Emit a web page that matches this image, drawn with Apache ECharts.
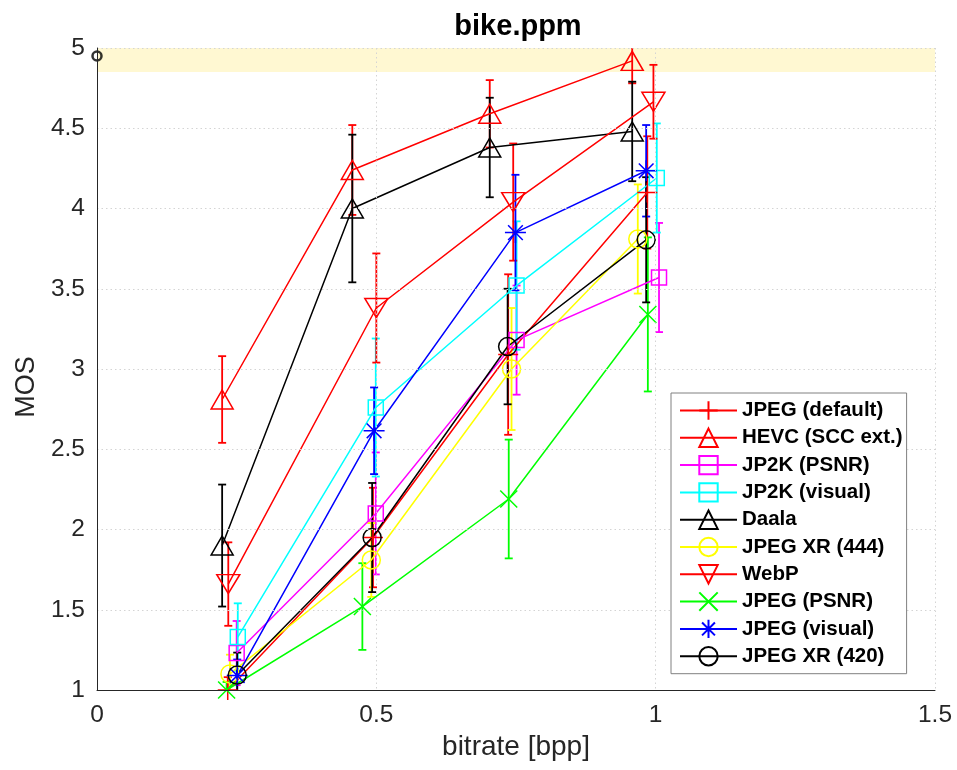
<!DOCTYPE html>
<html>
<head>
<meta charset="utf-8">
<title>bike.ppm</title>
<script src="https://cdn.jsdelivr.net/npm/echarts@6/dist/echarts.min.js"></script>
<style>
  html, body { margin: 0; padding: 0; background: #fff; }
  #chart { width: 957px; height: 770px; }
</style>
</head>
<body>
<div id="chart"></div>
<script>
// Codec names in legend order
const codecs = [
  'JPEG (default)', 'HEVC (SCC ext.)', 'JP2K (PSNR)', 'JP2K (visual)', 'Daala',
  'JPEG XR (444)', 'WebP', 'JPEG (PSNR)', 'JPEG (visual)', 'JPEG XR (420)'
];

// Bitrate [bpp], mean opinion score and confidence half-width per codec
const bppJpegDefault = [0.234, 0.494, 0.736, 0.985];
const mosJpegDefault = [1.00, 1.95, 3.09, 4.10];
const ciJpegDefault  = [0.08, 0.31, 0.50, 0.35];

const bppHevc = [0.224, 0.457, 0.703, 0.958];
const mosHevc = [2.81, 4.24, 4.59, 4.92];
const ciHevc  = [0.27, 0.28, 0.21, 0.14];

const bppJp2kPsnr = [0.250, 0.499, 0.751, 1.006];
const mosJp2kPsnr = [1.23, 2.10, 3.18, 3.57];
const ciJp2kPsnr  = [0.20, 0.38, 0.34, 0.34];

const bppJp2kVisual = [0.252, 0.499, 0.751, 1.002];
const mosJp2kVisual = [1.33, 2.76, 3.52, 4.19];
const ciJp2kVisual  = [0.21, 0.43, 0.40, 0.34];

const bppDaala = [0.224, 0.457, 0.703, 0.958];
const mosDaala = [1.90, 4.00, 4.38, 4.48];
const ciDaala  = [0.38, 0.46, 0.31, 0.31];

const bppJxr444 = [0.238, 0.491, 0.742, 0.968];
const mosJxr444 = [1.10, 1.81, 3.00, 3.81];
const ciJxr444  = [0.12, 0.23, 0.38, 0.34];

const bppWebp = [0.235, 0.500, 0.745, 0.996];
const mosWebp = [1.66, 3.38, 4.04, 4.665];
const ciWebp  = [0.26, 0.34, 0.365, 0.23];

const bppJpegPsnr = [0.232, 0.475, 0.737, 0.986];
const mosJpegPsnr = [1.00, 1.52, 2.19, 3.34];
const ciJpegPsnr  = [0.05, 0.27, 0.37, 0.48];

const bppJpegVisual = [0.251, 0.496, 0.749, 0.983];
const mosJpegVisual = [1.09, 2.615, 3.85, 4.235];
const ciJpegVisual  = [0.10, 0.27, 0.36, 0.285];

const bppJxr420 = [0.251, 0.4925, 0.735, 0.983];
const mosJxr420 = [1.093, 1.95, 3.14, 3.805];
const ciJxr420  = [0.14, 0.34, 0.36, 0.39];

// Reference (uncompressed) score and the band of top scores
const referencePoint = [0, 4.95];
const topBand = [4.85, 5];

const xTicks = [0, 0.5, 1, 1.5];
const yTicks = [1, 1.5, 2, 2.5, 3, 3.5, 4, 4.5, 5];

// Marker shapes
const SYM_PLUS = 'path://M5,0L5,10M0,5L10,5';
const SYM_CROSS = 'path://M0,0L10,10M0,10L10,0';
const SYM_STAR = 'path://M5,0L5,10M0,5L10,5M1.5,1.5L8.5,8.5M1.5,8.5L8.5,1.5';
const SYM_TRI_DOWN = 'path://M0,0L10,0L5,9Z';

const styles = [
  { color: '#ff0000', symbol: SYM_PLUS, size: 20 },
  { color: '#ff0000', symbol: 'triangle', size: [22, 19] },
  { color: '#ff00ff', symbol: 'rect', size: 15 },
  { color: '#00ffff', symbol: 'rect', size: 15 },
  { color: '#000000', symbol: 'triangle', size: [22, 19] },
  { color: '#ffff00', symbol: 'circle', size: 18 },
  { color: '#ff0000', symbol: SYM_TRI_DOWN, size: [23, 19] },
  { color: '#00ff00', symbol: SYM_CROSS, size: 17 },
  { color: '#0000ff', symbol: SYM_STAR, size: 21 },
  { color: '#000000', symbol: 'circle', size: 18 }
];

const bppAll = [bppJpegDefault, bppHevc, bppJp2kPsnr, bppJp2kVisual, bppDaala,
                bppJxr444, bppWebp, bppJpegPsnr, bppJpegVisual, bppJxr420];
const mosAll = [mosJpegDefault, mosHevc, mosJp2kPsnr, mosJp2kVisual, mosDaala,
                mosJxr444, mosWebp, mosJpegPsnr, mosJpegVisual, mosJxr420];
const ciAll  = [ciJpegDefault, ciHevc, ciJp2kPsnr, ciJp2kVisual, ciDaala,
                ciJxr444, ciWebp, ciJpegPsnr, ciJpegVisual, ciJxr420];

const FONT = '"Liberation Sans", Arial, Helvetica, sans-serif';

function errorBarSeries(name, color, rows) {
  return {
    type: 'custom',
    name: name + ' error',
    silent: true,
    clip: true,
    z: 2,
    data: rows,
    encode: { x: 0, y: 1 },
    renderItem: function (params, api) {
      const x = api.value(0), y = api.value(1), e = api.value(2);
      const lo = api.coord([x, y - e]);
      const hi = api.coord([x, y + e]);
      const cap = 4;
      const st = { stroke: color, lineWidth: 1.8 };
      return {
        type: 'group',
        children: [
          { type: 'line', shape: { x1: lo[0], y1: lo[1], x2: hi[0], y2: hi[1] }, style: st },
          { type: 'line', shape: { x1: lo[0] - cap, y1: lo[1], x2: lo[0] + cap, y2: lo[1] }, style: st },
          { type: 'line', shape: { x1: hi[0] - cap, y1: hi[1], x2: hi[0] + cap, y2: hi[1] }, style: st }
        ]
      };
    }
  };
}

const series = [];

// Pale band of the highest scores
series.push({
  type: 'custom',
  name: 'band',
  silent: true,
  z: 1,
  data: [[xTicks[0], topBand[0], xTicks[xTicks.length - 1], topBand[1]]],
  renderItem: function (params, api) {
    const p0 = api.coord([api.value(0), api.value(3)]);
    const p1 = api.coord([api.value(2), api.value(1)]);
    return {
      type: 'rect',
      shape: { x: p0[0], y: p0[1], width: p1[0] - p0[0], height: p1[1] - p0[1] },
      style: { fill: '#fff8d2' }
    };
  }
});

codecs.forEach(function (name, i) {
  const st = styles[i];
  const rows = bppAll[i].map(function (x, k) { return [x, mosAll[i][k], ciAll[i][k]]; });
  series.push(errorBarSeries(name, st.color, rows));
  series.push({
    type: 'line',
    name: name,
    z: 2,
    data: rows.map(function (r) { return [r[0], r[1]]; }),
    symbol: st.symbol,
    symbolSize: st.size,
    showSymbol: true,
    color: st.color,
    lineStyle: { color: st.color, width: 1.5 },
    itemStyle: { color: 'rgba(0,0,0,0)', borderColor: st.color, borderWidth: 1.5 },
    emphasis: { disabled: true },
    silent: true
  });
});

series.push({
  type: 'scatter',
  name: 'reference',
  z: 3,
  clip: false,
  silent: true,
  data: [referencePoint],
  symbol: 'circle',
  symbolSize: 9,
  itemStyle: { color: 'rgba(0,0,0,0)', borderColor: '#000', borderWidth: 2.5 }
});

const chart = echarts.init(document.getElementById('chart'), null, { renderer: 'canvas' });
chart.setOption({
  animation: false,
  backgroundColor: '#ffffff',
  title: {
    text: 'bike.ppm',
    left: 513,
    textAlign: 'center',
    top: 7,
    textStyle: { fontFamily: FONT, fontSize: 29, fontWeight: 'bold', color: '#000' }
  },
  grid: { left: 97, right: 22, top: 48, bottom: 80 },
  legend: {
    data: codecs,
    orient: 'vertical',
    left: 671,
    top: 393,
    z: 10,
    itemWidth: 57,
    itemHeight: 23,
    itemGap: 6.3,
    padding: [7, 4, 7, 8],
    backgroundColor: '#ffffff',
    borderColor: '#808080',
    borderWidth: 1,
    borderRadius: 0,
    selectedMode: false,
    textStyle: { fontFamily: FONT, fontSize: 20.5, fontWeight: 'bold', color: '#000' }
  },
  xAxis: {
    type: 'value',
    min: 0, max: 1.5, interval: 0.5,
    z: 5,
    name: 'bitrate [bpp]',
    nameLocation: 'middle',
    nameGap: 42,
    nameTextStyle: { fontFamily: FONT, fontSize: 28, color: '#262626' },
    axisLine: { show: true, onZero: false, lineStyle: { color: '#262626', width: 1 } },
    axisTick: { show: false },
    axisLabel: { fontFamily: FONT, fontSize: 24.5, color: '#262626', margin: 13 },
    splitLine: { show: true, lineStyle: { color: '#d4d4d4', width: 1, type: [1.5, 3] } }
  },
  yAxis: {
    type: 'value',
    min: 1, max: 5, interval: 0.5,
    z: 5,
    name: 'MOS',
    nameLocation: 'middle',
    nameGap: 55,
    nameTextStyle: { fontFamily: FONT, fontSize: 27, color: '#262626', padding: [0, 36, 0, 0] },
    axisLine: { show: true, onZero: false, lineStyle: { color: '#262626', width: 1 } },
    axisTick: { show: false },
    axisLabel: { fontFamily: FONT, fontSize: 24.5, color: '#262626', margin: 12 },
    splitLine: { show: true, lineStyle: { color: '#d4d4d4', width: 1, type: [1.5, 3] } }
  },
  series: series
});
</script>
</body>
</html>
